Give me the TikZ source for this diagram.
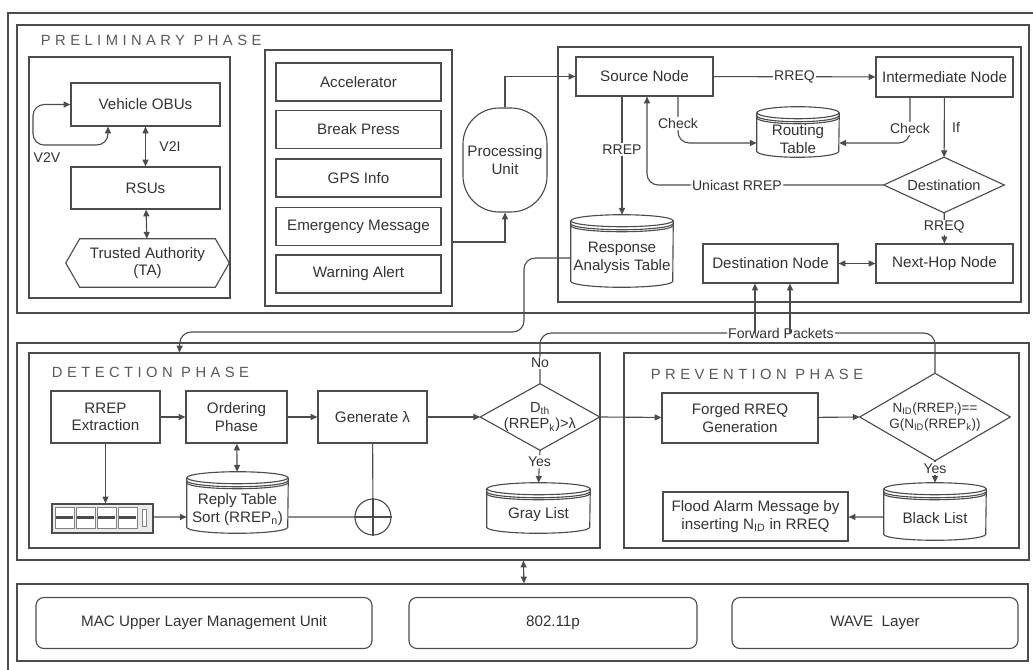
\documentclass[tikz,border=0pt]{standalone}
\usepackage{fontspec}
\setmainfont{Liberation Sans}
\newfontfamily\phasefont[LetterSpace=30]{Liberation Sans}
\usetikzlibrary{arrows.meta,positioning,calc,shapes.geometric}
\newdimen\px \px=0.025cm

% database table: name, x, y, width, height, text
\newcommand{\dbtable}[6]{%
  \node[wh={#4}{#5}, inner sep=0pt] (#1) at (#2,#3) {};
  \node[dbtext] (#1-text) at ($(#1.center)+(0,7)$) {#6};
  \draw[wire] ($(#1.north)+(0,6)$) ellipse [x radius=#4/2, y radius=6];
  \draw[wire] ($(#1.north west)+(0,6)$) -- ($(#1.south west)+(0,-6)$)
    arc [start angle=180, end angle=0, x radius=#4/2, y radius=6] -- ($(#1.north east)+(0,6)$);
  \foreach \k in {3,5}
    \draw[wire] ($(#1.north west)+(0,6+\k)$) arc [start angle=180, end angle=0, x radius=#4/2, y radius=6];
}

\begin{document}
\begin{tikzpicture}[
    x=\px, y=-\px,
    wire/.style={draw=black!70, line width=0.8pt},
    wh/.style 2 args={minimum width=#1*\px, minimum height=#2*\px},
    box/.style={wire, rectangle, inner sep=1pt, align=center, text=black!80, font=\fontsize{10.8}{12.5}\selectfont},
    phaseframe/.style={wire, rectangle, inner sep=0pt},
    dbtext/.style={inner sep=0pt, align=center, text=black!80, font=\fontsize{10.8}{12.5}\selectfont},
    cond/.style={rectangle, inner sep=0pt, align=center, text=black!80, font=\fontsize{10.4}{12}\selectfont},
    lbl/.style={fill=white, inner sep=1pt, text=black!80, font=\fontsize{10}{11}\selectfont},
    phase/.style={text=black!65, anchor=west, font=\phasefont\fontsize{10.5}{12}\selectfont},
    arr/.style={wire, -{Triangle[length=1.7mm,width=1.5mm]}},
    both/.style={wire, {Triangle[length=1.7mm,width=1.5mm]}-{Triangle[length=1.7mm,width=1.5mm]}},
    layerbox/.style={box, rounded corners=0.2cm}
]
\useasboundingbox (0,0) rectangle (1033,670);

% Outer frame
\draw[wire] (1033,13) -- (8,13) -- (8,670);

% Preliminary Phase
\node[phaseframe, wh={1012}{288}] (prelim) at (523,169) {};
\node[phase] (pretitle) at (36,40) {PRELIMINARY PHASE};

\node[phaseframe, wh={201}{241}] (v2x) at (129.5,177.5) {};
\node[box, wh={149}{43}] (obu) at (145.5,104.5) {Vehicle OBUs};
\node[box, wh={149}{42}] (rsu) at (145.5,188) {RSUs};
\node[dbtext, wh={163}{48}] (ta) at (147.5,263) {Trusted Authority\\(TA)};
\draw[wire] (ta.west) -- ($(ta.north west)+(14,0)$) -- ($(ta.north east)+(-14,0)$) -- (ta.east)
    -- ($(ta.south east)+(-14,0)$) -- ($(ta.south west)+(14,0)$) -- cycle;
\draw[both, rounded corners=8] ($(obu.south)+(-37.5,0)$) |- (33,145) |- (obu.west);
\node[lbl] (v2v) at (47,158) {V2V};
\draw[both] (obu) -- node[right=0.3cm, lbl] (v2i) {V2I} (rsu);
\draw[both] (rsu) -- (ta);

\node[phaseframe, wh={187}{256}] (sensors) at (358.5,178) {};
\foreach \y/\t/\n in {82/Accelerator/acc, 129.5/Break Press/brk, 178/GPS Info/gps,
                      226.5/Emergency Message/emg, 274/Warning Alert/warn}
    \node[box, wh={165}{38}] (\n) at (358.5,\y) {\t};

\node[box, wh={84}{104}, rounded corners=0.9cm] (pu) at (505,160) {Processing\\Unit};
\draw[arr] ($(sensors.east)+(0,64)$) -| (pu.south);

% Routing
\node[phaseframe, wh={463}{255}] (routing) at (789.5,174.5) {};
\node[box, wh={137}{39}] (src) at (644.5,76.5) {Source Node};
\node[box, wh={137}{40}] (inter) at (944.5,77) {Intermediate Node};
\dbtable{rtab}{798}{132}{82}{50}{Routing\\Table}
\node[cond, wh={120}{55}] (dest) at (944,185) {Destination};
\draw[wire] (dest.north) -- (dest.east) -- (dest.south) -- (dest.west) -- cycle;
\dbtable{resp}{622}{251}{102}{72}{Response\\Analysis Table}
\node[box, wh={137}{39}] (nhop) at (944.5,263.5) {Next-Hop Node};
\node[box, wh={135}{39}] (dnode) at (770.5,263.5) {Destination Node};

\draw[arr] (pu.north) |- (src.west);
\draw[arr] (src) -- node[lbl] {RREQ} (inter);
\draw[arr, rounded corners=8] ($(src.south)+(33.5,0)$) |- node[lbl, pos=0.29] {Check} ($(rtab.west)+(0,11)$);
\draw[arr, rounded corners=8] ($(inter.south)+(-34.5,0)$) |- node[lbl, pos=0.34] {Check} ($(rtab.east)+(0,11)$);
\draw[arr] (inter) -- node[right=0.15cm, lbl] {If} (dest);
\draw[arr, rounded corners=8] (dest.west) -| node[lbl, pos=0.31] {Unicast RREP} ($(src.south)+(2.5,0)$);
\draw[arr] ($(src.south)+(-22.5,0)$) -- node[lbl, pos=0.45] {RREP} (resp.north -| 622,0);
\draw[arr] (dest) -- node[lbl, pos=0.47] {RREQ} (nhop);
\draw[both] (dnode) -- (nhop);

% Detection Phase
\node[phaseframe, wh={1012}{217}] (lower) at (523,451.5) {};
\node[phaseframe, wh={571}{195}] (detect) at (314.5,450.5) {};
\node[phase] (dettitle) at (47,372) {DETECTION PHASE};

\draw[arr, rounded corners=8] ($(resp.west)+(0,7)$) -- (524,258) -- (524,332) -- (180,332)
    -- ($(detect.north west)+(151,0)$);

\node[box, wh={109}{52}] (rrepx) at (105.5,417) {RREP\\Extraction};
\node[box, wh={101}{52}] (order) at (236.5,417) {Ordering\\Phase};
\node[box, wh={109}{52}] (genl) at (372.5,417) {Generate λ};
\node[cond, wh={119}{66}] (dth) at (540,417) {D\textsubscript{th}\\(RREP\textsubscript{k})>λ};
\draw[wire] (dth.north) -- (dth.east) -- (dth.south) -- (dth.west) -- cycle;
\dbtable{reply}{237.5}{502.5}{101}{61}{Reply Table\\Sort (RREP\textsubscript{n})}
\dbtable{gray}{538.5}{508}{103}{50}{Gray List}
\node[wire, circle, minimum size=36*\px, inner sep=0pt] (xor) at (373,517) {};
\draw[wire] (xor.north) -- (xor.south) (xor.west) -- (xor.east);

% rack icon
\node[wire, fill=black!8, wh={101}{29}, inner sep=0pt] (rack) at (102.5,518.5) {};
\foreach \i in {0,1,2,3} {
    \draw[draw=black!50, fill=white] ($(rack.north west)+(4+\i*21,4)$) rectangle ++(19,21);
    \fill[black!70] ($(rack.north west)+(5+\i*21,13)$) rectangle ++(17,3);
}
\draw[draw=black!50, fill=white] ($(rack.north west)+(91,6)$) rectangle ++(4,17);

\draw[arr] (rrepx) -- (order);
\draw[arr] (order) -- (genl);
\draw[arr] (genl) -- (dth);
\draw[arr] (rrepx.south) -- (rrepx.south |- rack.north);
\draw[arr] ($(rack.east)+(0,-1.5)$) -- ($(reply.west)+(0,14.5)$);
\draw[both] (order) -- (reply);
\draw[wire] ($(reply.east)+(0,14.5)$) -- (xor.west);
\draw[wire] (genl) -- (xor);
\draw[arr] (dth.south) -- node[lbl, pos=0.35] {Yes} (gray.north);

% Prevention Phase
\node[phaseframe, wh={395}{195}] (prevent) at (821.5,450.5) {};
\node[phase] (pretitle2) at (646,374) {PREVENTION PHASE};
\node[box, wh={156}{50}] (forged) at (740,418) {Forged RREQ\\Generation};
\node[cond, wh={150}{87}, font=\fontsize{9.6}{11.5}\selectfont] (nid) at (935,417)
    {N\textsubscript{ID}(RREP\textsubscript{i})==\\G(N\textsubscript{ID}(RREP\textsubscript{k}))};
\draw[wire] (nid.north) -- (nid.east) -- (nid.south) -- (nid.west) -- cycle;
\dbtable{black}{935}{511.5}{102}{57}{Black List}
\node[box, wh={185}{49}] (flood) at (755.5,516.5) {Flood Alarm Message by\\inserting N\textsubscript{ID} in RREQ};

\draw[arr] (dth.east) -- (forged);
\draw[arr] (forged) -- (nid.west);
\draw[arr] (nid.south) -- node[lbl, pos=0.35] {Yes} (black.north);
\draw[arr] ($(black.west)+(0,5.5)$) -- (flood.east |- 0,517);

% Forward Packets
\coordinate (fpl) at (540,333);
\coordinate (fpr) at (935,333);
\draw[wire, rounded corners=8] (dth.north) -- node[lbl, pos=0.41] {No} (fpl)
    -- node[lbl, pos=0.61] {Forward Packets} (fpr) -- (nid.north);
\coordinate (fp1) at (755,333);
\coordinate (fp2) at (790,333);
\draw[arr] (fp1) -- (fp1 |- dnode.south);
\draw[arr] (fp2) -- (fp2 |- dnode.south);

% Layers
\node[phaseframe, wh={1011}{77}] (layer) at (522.5,622.5) {};
\node[layerbox, wh={336}{51}] (mac) at (204,623) {MAC Upper Layer Management Unit};
\node[layerbox, wh={288}{51}] (p80211) at (553,623) {802.11p};
\node[layerbox, wh={286}{51}] (wave) at (875,623) {WAVE\ \ Layer};
\draw[both] ($(lower.south west)+(507,0)$) -- ($(layer.north west)+(507.5,0)$);
\end{tikzpicture}
\end{document}
